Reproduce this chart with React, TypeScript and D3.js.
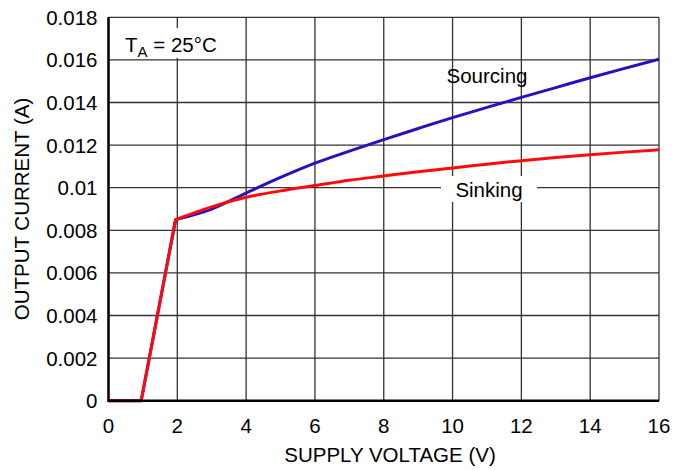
import React from "react";
import * as d3 from "d3";

const xTicks = [0, 2, 4, 6, 8, 10, 12, 14, 16];
const yTicks = [0, 0.002, 0.004, 0.006, 0.008, 0.01, 0.012, 0.014, 0.016, 0.018];
const yTickLabels = ["0", "0.002", "0.004", "0.006", "0.008", "0.01", "0.012", "0.014", "0.016", "0.018"];

const sourcingV = [0, 0.95, 1.95, 3, 4, 5, 6, 7, 8, 9, 10, 11, 12, 13, 14, 15, 16];
const sourcingI = [0, 0, 0.0085, 0.009, 0.00975, 0.01048, 0.01115, 0.01172, 0.01226, 0.01278, 0.01329, 0.01377, 0.01424, 0.0147, 0.01516, 0.0156, 0.01603];

const sinkingV = [0, 0.95, 1.95, 3, 4, 5, 6, 7, 8, 9, 10, 11, 12, 13, 14, 15, 16];
const sinkingI = [0, 0, 0.0085, 0.0091, 0.00955, 0.00985, 0.0101, 0.01035, 0.01055, 0.01075, 0.01093, 0.0111, 0.01127, 0.01142, 0.01155, 0.01167, 0.01178];

const font = "'Liberation Sans', Arial, sans-serif";

export default function App() {
  const W = 677, H = 470;
  const x = d3.scaleLinear().domain([0, 16]).range([108.5, 659]);
  const y = d3.scaleLinear().domain([0, 0.018]).range([400.7, 17.3]);

  // straight segments up to the knee, smooth curve after it
  const lin = d3.line<number[]>().x((d) => x(d[0])).y((d) => y(d[1]));
  const smooth = d3.line<number[]>().x((d) => x(d[0])).y((d) => y(d[1])).curve(d3.curveMonotoneX);
  const pathFor = (vs: number[], is: number[]) => {
    const pts = vs.map((v, i) => [v, is[i]]);
    const a = lin(pts.slice(0, 3)) || "";
    const b = (smooth(pts.slice(2)) || "").replace(/^M[^LC]*/, "");
    return a + b;
  };

  return (
    <svg width={W} height={H} style={{ position: "absolute", left: 0, top: 0 }} fontFamily={font}>
      <rect width={W} height={H} fill="#fff" />
      {xTicks.map((t) => (
        <line key={"gx" + t} x1={x(t)} x2={x(t)} y1={y(0.018)} y2={y(0)} stroke="#333" strokeWidth={1.3} />
      ))}
      {yTicks.map((t) => (
        <line key={"gy" + t} x1={x(0)} x2={x(16)} y1={y(t)} y2={y(t)} stroke="#333" strokeWidth={1.3} />
      ))}
      {/* white boxes behind annotations */}
      <rect x={120} y={28} width={110} height={30} fill="#fff" />
      <rect x={441} y={176} width={96} height={26} fill="#fff" />

      <path d={pathFor(sourcingV, sourcingI)} fill="none" stroke="#2a0fc0" strokeWidth={3} strokeLinejoin="round" />
      <path d={pathFor(sinkingV, sinkingI)} fill="none" stroke="#ff0a0a" strokeWidth={3} strokeLinejoin="round" />

      <line x1={x(0)} x2={x(0)} y1={y(0.018)} y2={y(0) + 1} stroke="#000" strokeWidth={2.5} />
      <line x1={x(0) - 1} x2={x(16)} y1={y(0)} y2={y(0)} stroke="#000" strokeWidth={2.5} />

      {xTicks.map((t) => (
        <text key={"tx" + t} x={x(t)} y={433} textAnchor="middle" fontSize={20.5} fill="#000">{t}</text>
      ))}
      {yTicks.map((t, i) => (
        <text key={"ty" + t} x={x(0) - 11} y={y(t) + 7.5} textAnchor="end" fontSize={20.5} fill="#000">{yTickLabels[i]}</text>
      ))}

      <text x={390} y={462} textAnchor="middle" fontSize={20.5} fill="#000">SUPPLY VOLTAGE (V)</text>
      <text transform={`translate(29,${y(0.009)}) rotate(-90)`} textAnchor="middle" fontSize={20.5} fill="#000">OUTPUT CURRENT (A)</text>

      <text x={125} y={52} fontSize={20.5} fill="#000">
        T<tspan fontSize={15} dy={5}>A</tspan><tspan dy={-5}> = 25°C</tspan>
      </text>
      <text x={487} y={83} textAnchor="middle" fontSize={20.5} fill="#000">Sourcing</text>
      <text x={489} y={197} textAnchor="middle" fontSize={20.5} fill="#000">Sinking</text>
    </svg>
  );
}
